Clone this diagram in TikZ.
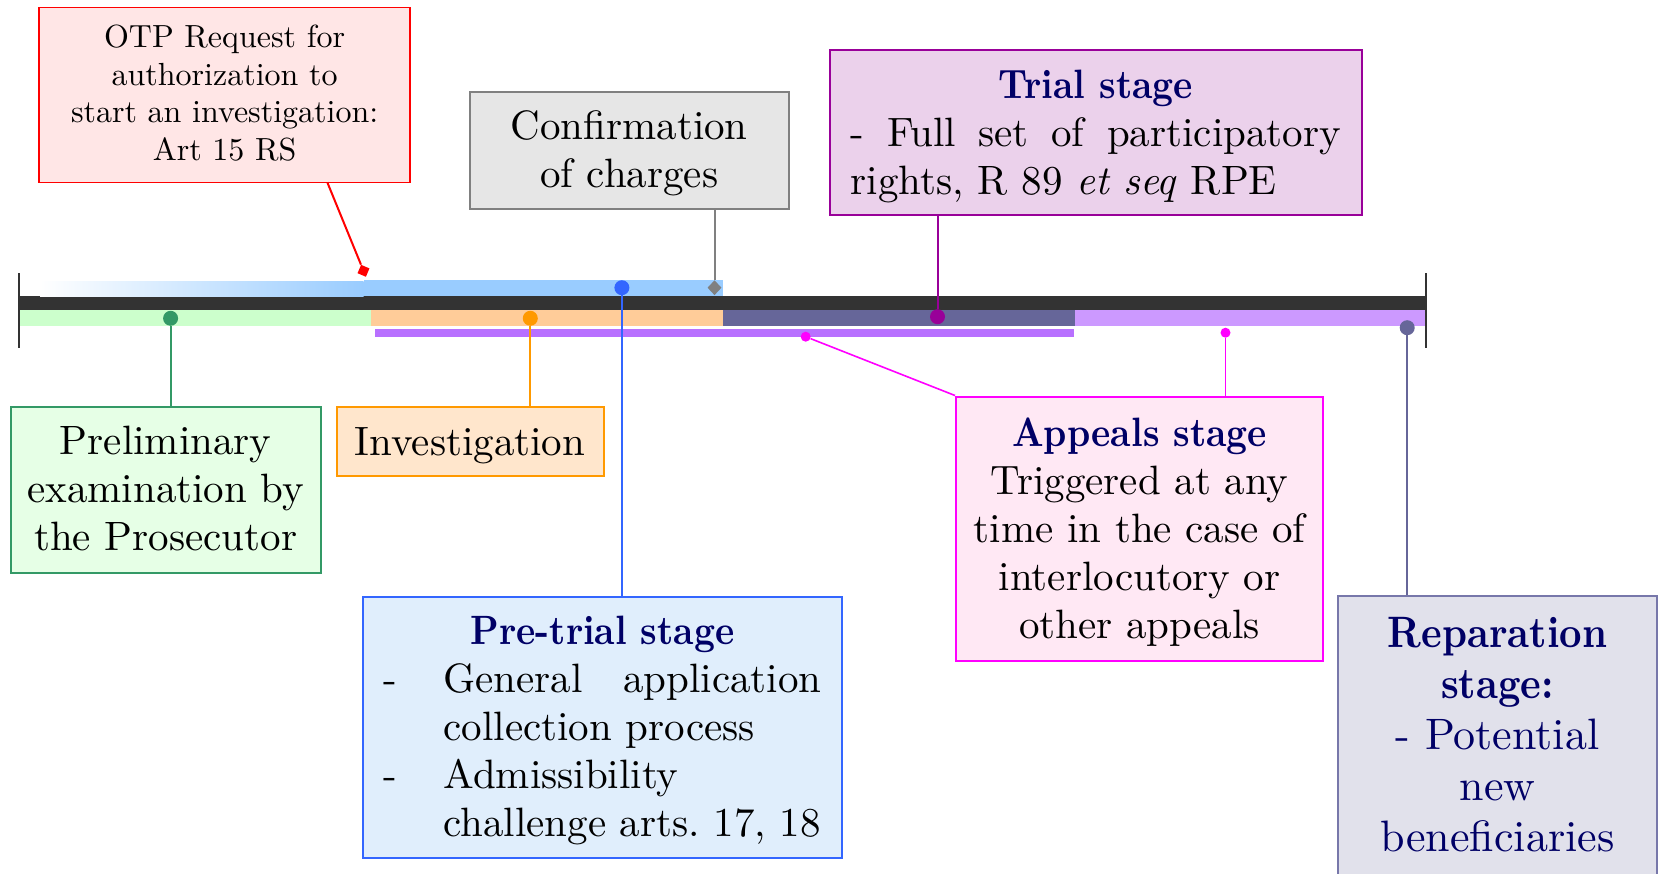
\documentclass[tikz,border=0pt]{standalone}
\usepackage{fontspec}
\setmainfont{lmroman10-regular.otf}[
  BoldFont=lmroman10-bold.otf, ItalicFont=lmroman10-italic.otf]
\newfontfamily\ttlfont{lmroman10-bold.otf}[FakeStretch=0.89]
\usetikzlibrary{shapes.geometric,calc}
\frenchspacing
\newcommand\Tst{\rule{0pt}{0.89em}}
\newcommand\Bst{\rule[-0.2em]{0pt}{0pt}}
\definecolor{navy}{HTML}{000066}
\definecolor{barblack}{HTML}{333333}
\definecolor{barblue}{HTML}{99CCFF}
\definecolor{bargreen}{HTML}{CCFFCC}
\definecolor{barorange}{HTML}{FFCC99}
\definecolor{bartrial}{HTML}{666699}
\definecolor{barlilac}{HTML}{CC99FF}
\definecolor{barpurple}{HTML}{B870FF}
\definecolor{cgreen}{HTML}{339966}
\definecolor{corange}{HTML}{FF9900}
\definecolor{cblue}{HTML}{3366FF}
\definecolor{cgray}{HTML}{808080}
\definecolor{cpurple}{HTML}{990099}
\definecolor{cmagenta}{HTML}{FF00FF}
\definecolor{cslate}{HTML}{666699}
\definecolor{cred}{HTML}{FF0000}
\definecolor{fred}{HTML}{FFE6E6}
\definecolor{fgray}{HTML}{E6E6E6}
\definecolor{ftrial}{HTML}{EBD1EB}
\definecolor{fgreen}{HTML}{E6FFE6}
\definecolor{forange}{HTML}{FFE6CC}
\definecolor{fblue}{HTML}{E0EEFC}
\definecolor{fpink}{HTML}{FFE8F4}
\definecolor{fslate}{HTML}{E1E1EB}
\definecolor{bslate}{HTML}{7777AA}
\begin{document}
\begin{tikzpicture}[x=1pt,y=-1pt,
  box/.style={draw, line width=2pt, inner sep=0pt, align=center,
    font=\fontsize{41}{48}\selectfont},
  dot/.style={circle, inner sep=0pt, minimum size=15pt},
  sdot/.style={circle, inner sep=0pt, minimum size=10pt, fill=cmagenta},
  link/.style={line width=2pt},
  tick/.style={line width=2pt, draw=barblack}]
\useasboundingbox (0,0) rectangle (1660,873);

% timeline bars
\fill[barblack] (19.4,295.7) rectangle (1425.6,310.3);
\shade[left color=white, right color=barblue] (40,281) rectangle (363.5,296.5);
\fill[barblue] (363.5,280.2) rectangle (723.2,295.7);
\fill[bargreen] (19.4,310.3) rectangle (371.3,326.3);
\fill[barorange] (371.3,310.3) rectangle (723.2,326.3);
\fill[bartrial] (723.2,310.3) rectangle (1074.7,326.3);
\fill[barlilac] (1074.7,310.3) rectangle (1425.6,326.3);
\fill[barpurple] (374.7,328.7) rectangle (1074.2,337.3);
\draw[tick] (19.4,273) -- (19.4,348);
\draw[tick] (1425.6,273) -- (1425.6,348);

% boxes
\node[box, draw=cred, fill=fred, line width=1.6pt, minimum width=370.8pt, minimum height=175pt,
  font=\fontsize{32}{37.5}\selectfont] (otp) at (224.6,94.8)
  {\Tst OTP Request for\\authorization to\\start an investigation:\\Art 15 RS\rule[-0.32em]{0pt}{0pt}};
\node[box, draw=cgray, fill=fgray, minimum width=318.9pt, minimum height=117.6pt] (confirm) at (629.25,150.5)
  {\Tst Confirmation\\of charges\rule[-0.26em]{0pt}{0pt}};
\node[box, draw=cpurple, fill=ftrial, minimum width=531.8pt, minimum height=165pt] (trial) at (1095.9,132.5)
  {\Tst{\ttlfont\color{navy}Trial stage}\\
   \makebox[490pt][s]{- Full set of participatory}\\
   \makebox[490pt][l]{rights, R 89 \textit{et seq} RPE}\Bst};
\node[box, draw=cgreen, fill=fgreen, minimum width=310.2pt, minimum height=166.3pt] (prelim) at (165.7,489.65)
  {\Tst Preliminary\\examination by\\the Prosecutor\rule[-0.25em]{0pt}{0pt}};
\node[box, draw=corange, fill=forange, minimum width=266.8pt, minimum height=69.9pt] (invest) at (470.1,441.45)
  {\Tst Investigation\Bst};
\node[box, draw=cblue, fill=fblue, minimum width=479.6pt, minimum height=261.6pt] (pretrial) at (602.5,727.5)
  {\Tst{\ttlfont\color{navy}Pre-trial stage}\\
   \makebox[438pt][l]{\makebox[60pt][l]{-}\makebox[378pt][s]{General application}}\\
   \makebox[438pt][l]{\hspace*{60pt}collection process}\\
   \makebox[438pt][l]{\makebox[60pt][l]{-}Admissibility}\\
   \makebox[438pt][l]{\hspace*{60pt}challenge arts. 17, 18}\rule[-0.24em]{0pt}{0pt}};
\node[box, draw=cmagenta, fill=fpink, minimum width=367.3pt, minimum height=264.5pt] (appeals) at (1139.65,528.75)
  {\Tst{\ttlfont\color{navy}Appeals stage}\\Triggered at any\\time in the case of\\interlocutory or\\other appeals\rule[-0.24em]{0pt}{0pt}};
\node[box, draw=bslate, fill=fslate, text=navy, minimum width=318.4pt, minimum height=280pt,
  font=\fontsize{44}{51}\selectfont] (repar) at (1497.5,736)
  {\Tst{\ttlfont Reparation}\\{\ttlfont stage:}\\- Potential\\new\\beneficiaries\rule[-0.29em]{0pt}{0pt}};

% markers
\node[dot, fill=cgreen] (dG) at (170.6,318.3) {};
\node[dot, fill=corange] (dO) at (530.3,318.3) {};
\node[dot, fill=cblue] (dB) at (621.9,287.7) {};
\node[diamond, fill=cgray, inner sep=0pt, minimum width=14pt, minimum height=15pt] (dC) at (714.5,287.7) {};
\node[dot, fill=cpurple] (dT) at (937.5,316.7) {};
\node[sdot] (dA1) at (805.7,336.7) {};
\node[sdot] (dA2) at (1225.5,332.7) {};
\node[dot, fill=cslate] (dR) at (1407.2,327.7) {};
\node[diamond, fill=cred, inner sep=0pt, minimum size=13pt, rotate=22] (dP) at (363.5,270.8) {};
\coordinate (otpfoot) at (327.3,182.3);

% connectors
\draw[link, cgreen] (dG) -- (dG |- prelim.north);
\draw[link, corange] (dO) -- (dO |- invest.north);
\draw[link, cblue] (dB) -- (dB |- pretrial.north);
\draw[link, cgray] (dC) -- (dC |- confirm.south);
\draw[link, cpurple] (dT) -- (dT |- trial.south);
\draw[link, cmagenta, line width=1.6pt] (dA1) -- (appeals.north west);
\draw[link, cmagenta, line width=1.6pt] (dA2) -- (dA2 |- appeals.north);
\draw[link, cslate] (dR) -- (dR |- repar.north);
\draw[link, cred] (dP) -- (otpfoot);
\end{tikzpicture}
\end{document}
